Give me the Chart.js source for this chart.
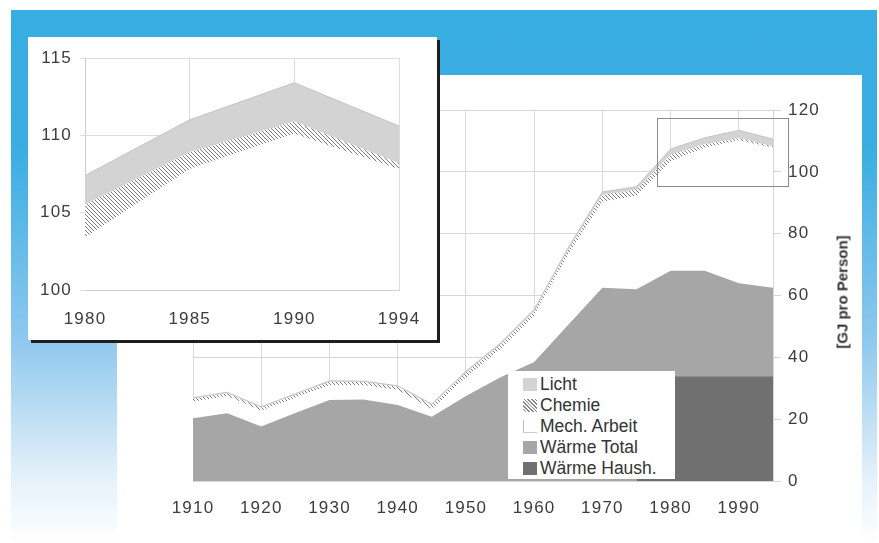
<!DOCTYPE html>
<html>
<head>
<meta charset="utf-8">
<script src="https://cdn.jsdelivr.net/npm/chart.js@4.4.1/dist/chart.umd.min.js"></script>
<style>
  html, body { margin: 0; padding: 0; background: #fff; }
  body { width: 879px; height: 543px; position: relative; overflow: hidden; font-family: 'Liberation Sans', Arial, sans-serif; }
  #blau { position: absolute; left: 11px; top: 10px; width: 866px; height: 533px;
    background: linear-gradient(to bottom, #38ade2 0px, #3aaee2 140px, #8fc8ee 330px, #e6f2fb 470px, #ffffff 533px); }
  #panel { position: absolute; left: 117px; top: 75px; width: 745px; height: 468px; background: #fff; }
  #lupe { position: absolute; left: 28px; top: 37px; width: 409px; height: 303px; background: #fff; box-shadow: 3px 3px 0 #1e1e1e; }
  canvas { position: absolute; left: 0; top: 0; }
  #legende { position: absolute; left: 508px; top: 371px; width: 167px; height: 108px; background: #fff;
    padding: 3px 0 0 15px; box-sizing: border-box; font-size: 17.5px; color: #333; }
  #legende div { height: 21px; line-height: 21px; display: flex; align-items: center; }
  #legende span.farbe { display: inline-block; width: 14px; height: 13px; margin-right: 3px; box-sizing: border-box; }
  #titel { position: absolute; left: 842px; top: 292px; transform: translate(-50%, -50%) rotate(-90deg);
    font-weight: bold; font-size: 15px; color: #333; white-space: nowrap; }
</style>
</head>
<body>
<div id="blau"></div>
<div id="panel"><canvas id="haupt" width="745" height="468"></canvas></div>
<div id="lupe"><canvas id="ausschnitt" width="409" height="303"></canvas></div>
<div id="legende"></div>
<div id="titel">[GJ pro Person]</div>
<script>
// Daten (GJ pro Person)
const jahre = ['1910','1915','1920','1925','1930','1935','1940','1945','1950','1955','1960','1965','1970','1975','1980','1985','1990','1994'];
const waermeTotal = [20.3, 21.9, 17.6, 22.0, 26.2, 26.4, 24.6, 20.8, 27.5, 33.5, 38.5, 50.5, 62.5, 62.0, 68.0, 68.0, 64.0, 62.5];
const mechArbeit  = [5.3, 5.6, 5.1, 4.9, 4.8, 4.6, 4.8, 2.4, 6.0, 9.0, 15.0, 22.8, 27.8, 30.3, 35.4, 39.8, 46.1, 45.3];
const chemie      = [1.0, 0.9, 1.0, 1.0, 1.1, 1.0, 1.1, 1.3, 1.5, 1.5, 1.4, 1.5, 2.2, 1.9, 2.1, 1.1, 0.8, 0.4];
const licht       = [0.3, 0.3, 0.3, 0.3, 0.3, 0.3, 0.3, 0.4, 0.5, 0.5, 0.6, 0.7, 1.0, 1.0, 1.9, 2.1, 2.5, 2.4];
const waermeHaush = [null, null, null, null, null, null, null, null, null, null, null, null, null, 0, 33.8, 33.8, 33.8, 33.8];
const yTicksHaupt = [0, 20, 40, 60, 80, 100, 120];
const yTicksLupe = [100, 105, 110, 115];
const lupenRahmen = { von: 1978, bis: 1997.2, unten: 95.5, oben: 117.5 };

const farben = { licht: '#d3d3d3', mech: '#ffffff', total: '#a6a6a6', haush: '#707070' };

// Schraffur fuer Chemie
function schraffur() {
    const c = document.createElement('canvas');
    c.width = 4; c.height = 4;
    const g = c.getContext('2d');
    g.fillStyle = '#fff'; g.fillRect(0, 0, 4, 4);
    g.strokeStyle = '#7a7a7a'; g.lineWidth = 1;
    g.beginPath();
    g.moveTo(-1, -1); g.lineTo(5, 5);
    g.moveTo(-1, 3); g.lineTo(1, 5);
    g.moveTo(3, -1); g.lineTo(5, 1);
    g.stroke();
    return g.createPattern(c, 'repeat');
}
const muster = schraffur();

Chart.defaults.font.family = "'Liberation Sans', Arial, sans-serif";
Chart.defaults.color = '#3c3c3c';

const sperrung = {
    id: 'sperrung',
    beforeDraw(chart) { chart.ctx.letterSpacing = '1.2px'; }
};

const rahmenPlugin = {
    id: 'rahmen',
    afterDatasetsDraw(chart) {
        const x = chart.scales.x, y = chart.scales.y, ctx = chart.ctx;
        const x1 = x.getPixelForValue((lupenRahmen.von - 1910) / 5);
        const x2 = x.getPixelForValue((lupenRahmen.bis - 1910) / 5);
        const y1 = y.getPixelForValue(lupenRahmen.oben);
        const y2 = y.getPixelForValue(lupenRahmen.unten);
        ctx.save();
        ctx.strokeStyle = '#8a8a8a'; ctx.lineWidth = 1;
        ctx.strokeRect(Math.round(x1) + 0.5, Math.round(y1) + 0.5, Math.round(x2 - x1), Math.round(y2 - y1));
        ctx.restore();
    }
};

function datensaetze(von) {
    const s = a => a.slice(von);
    return [
        { label: 'Wärme Haush.', data: s(waermeHaush), stack: 'h', fill: 'origin', backgroundColor: farben.haush, borderWidth: 0, pointRadius: 0, tension: 0 },
        { label: 'Wärme Total', data: s(waermeTotal), stack: 'w', fill: 'origin', backgroundColor: farben.total, borderWidth: 0, pointRadius: 0, tension: 0 },
        { label: 'Mech. Arbeit', data: s(mechArbeit), stack: 'w', fill: '-1', backgroundColor: farben.mech, borderWidth: 0, pointRadius: 0, tension: 0 },
        { label: 'Chemie', data: s(chemie), stack: 'w', fill: '-1', backgroundColor: muster, borderWidth: 0, pointRadius: 0, tension: 0 },
        { label: 'Licht', data: s(licht), stack: 'w', fill: '-1', backgroundColor: farben.licht, borderColor: '#c4c4c4', borderWidth: 1, pointRadius: 0, tension: 0 }
    ];
}

// Hauptdiagramm
new Chart(document.getElementById('haupt'), {
    type: 'line',
    data: { labels: jahre, datasets: datensaetze(0) },
    options: {
        responsive: false,
        animation: false,
        layout: { padding: { left: 76, top: 35, right: 0, bottom: 0 } },
        plugins: { legend: { display: false }, tooltip: { enabled: false } },
        scales: {
            x: {
                afterFit: s => { s.height = 62; },
                grid: { color: c => (c.index % 2 === 0 || c.index === jahre.length - 1) ? '#dadada' : 'transparent', drawTicks: false },
                border: { display: false },
                ticks: { autoSkip: false, maxRotation: 0, padding: 17, font: { size: 17 },
                    callback: (v, i) => i % 2 === 0 ? jahre[i] : '' }
            },
            y: {
                position: 'right', stacked: true, min: 0, max: 120,
                afterFit: s => { s.width = 89; },
                afterBuildTicks: s => { s.ticks = yTicksHaupt.map(v => ({ value: v })); },
                grid: { color: '#d6d6d6', tickLength: 8 },
                border: { color: '#d6d6d6' },
                ticks: { padding: 7, font: { size: 17 } }
            }
        }
    },
    plugins: [sperrung, rahmenPlugin]
});

// Ausschnitt 1980-1994
new Chart(document.getElementById('ausschnitt'), {
    type: 'line',
    data: { labels: jahre.slice(14), datasets: datensaetze(14) },
    options: {
        responsive: false,
        animation: false,
        layout: { padding: { left: 0, top: 21, right: 30, bottom: 0 } },
        plugins: { legend: { display: false }, tooltip: { enabled: false } },
        scales: {
            x: {
                afterFit: s => { s.height = 50; },
                grid: { color: '#dcdcdc', drawTicks: false },
                border: { color: '#cfcfcf' },
                ticks: { maxRotation: 0, padding: 19, font: { size: 17 } }
            },
            y: {
                position: 'left', stacked: true, min: 100, max: 115,
                afterFit: s => { s.width = 57; },
                afterBuildTicks: s => { s.ticks = yTicksLupe.map(v => ({ value: v })); },
                grid: { color: '#dcdcdc', tickLength: 5 },
                border: { color: '#cfcfcf' },
                ticks: { padding: 8, font: { size: 17 } }
            }
        }
    },
    plugins: [sperrung]
});

// Legende
const legendeEintraege = [
    { text: 'Licht', stil: 'background:' + farben.licht },
    { text: 'Chemie', stil: 'background: repeating-linear-gradient(45deg, #fff 0px, #fff 1.6px, #888 1.6px, #888 2.6px)' },
    { text: 'Mech. Arbeit', stil: 'background:#fff; border-left:1px solid #bbb; border-bottom:1px solid #ccc' },
    { text: 'Wärme Total', stil: 'background:' + farben.total },
    { text: 'Wärme Haush.', stil: 'background:' + farben.haush }
];
const legende = document.getElementById('legende');
legendeEintraege.forEach(e => {
    const zeile = document.createElement('div');
    zeile.innerHTML = `<span class="farbe" style="${e.stil}"></span>${e.text}`;
    legende.appendChild(zeile);
});
</script>
</body>
</html>
